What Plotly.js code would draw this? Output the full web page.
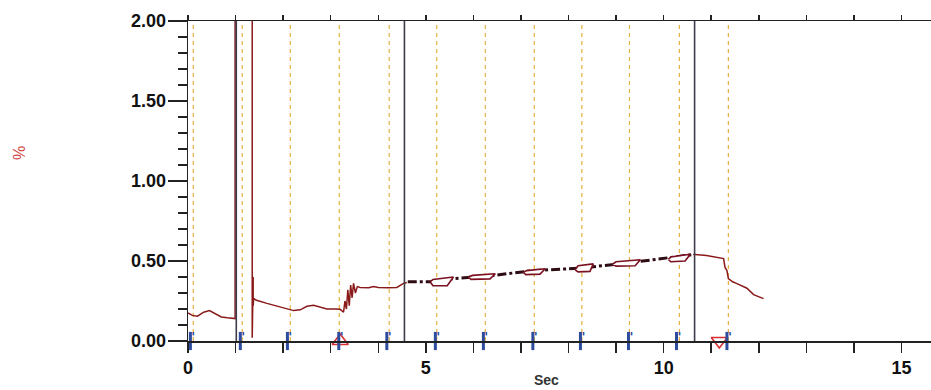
<!DOCTYPE html>
<html>
<head>
<meta charset="utf-8">
<script src="https://cdn.plot.ly/plotly-3.0.1.min.js"></script>
<style>html,body{margin:0;padding:0;background:#fff;}#chart{width:931px;height:390px;}</style>
</head>
<body>
<div id="chart"></div>
<script>
// ---- data ----
const traceT = [0, 0.09, 0.2, 0.33, 0.45, 0.57, 0.7, 0.83, 0.97, 0.99, 0.99, 1.35, 1.35, 1.36, 1.37, 1.37, 1.38, 1.44, 1.66, 1.87, 2.08, 2.22, 2.36, 2.5, 2.64, 2.78, 2.92, 3.1, 3.2, 3.27, 3.3, 3.33, 3.36, 3.39, 3.42, 3.45, 3.48, 3.52, 3.56, 3.62, 3.8, 3.9, 4.0, 4.2, 4.39, 4.53, 4.6];
const traceV = [0.175, 0.16, 0.155, 0.18, 0.19, 0.17, 0.15, 0.145, 0.14, 0.14, 2.5, 2.5, 0.02, 0.26, 0.4, 0.22, 0.265, 0.255, 0.235, 0.217, 0.2, 0.19, 0.195, 0.217, 0.223, 0.21, 0.2, 0.2, 0.198, 0.18, 0.25, 0.2, 0.32, 0.22, 0.35, 0.27, 0.36, 0.3, 0.34, 0.335, 0.333, 0.34, 0.335, 0.333, 0.335, 0.36, 0.365];
const midT = [4.62, 5.09, 5.6, 6.42, 7.26, 8.24, 9.3, 10.1, 10.62];
const midV = [0.37, 0.37, 0.39, 0.41, 0.44, 0.455, 0.49, 0.52, 0.54];
const tailT = [10.62, 10.66, 10.9, 11.1, 11.26, 11.29, 11.33, 11.36, 11.45, 11.53, 11.65, 11.75, 11.89, 12.0, 12.1];
const tailV = [0.54, 0.54, 0.535, 0.525, 0.515, 0.46, 0.44, 0.39, 0.37, 0.36, 0.345, 0.33, 0.29, 0.275, 0.265];
const boxT = [
  [5.09, 5.15, 5.45, 5.58, 5.15, 5.09],
  [5.89, 5.95, 6.35, 6.46, 5.98, 5.89],
  [7.05, 7.10, 7.40, 7.51, 7.12, 7.05],
  [8.14, 8.20, 8.45, 8.52, 8.20, 8.14],
  [8.92, 9.00, 9.40, 9.51, 9.00, 8.92],
  [10.10, 10.15, 10.45, 10.56, 10.15, 10.10]
];
const boxV = [
  [0.37, 0.345, 0.345, 0.40, 0.385, 0.37],
  [0.40, 0.385, 0.388, 0.42, 0.41, 0.40],
  [0.43, 0.415, 0.418, 0.452, 0.44, 0.43],
  [0.445, 0.432, 0.435, 0.482, 0.47, 0.445],
  [0.48, 0.468, 0.47, 0.508, 0.495, 0.48],
  [0.51, 0.495, 0.50, 0.542, 0.525, 0.51]
];
const orangeT = [0.11, 1.14, 2.15, 3.18, 4.23, 5.23, 6.25, 7.28, 8.28, 9.28, 10.33, 11.36];
const eventT = [1.015, 4.55, 10.65];
const flagT = [0.05, 1.10, 2.09, 3.17, 4.18, 5.20, 6.21, 7.25, 8.25, 9.26, 10.27, 11.33];
const startT = [3.2];
const startV = [0.0];
const endT = [11.17];
const endV = [0.0];
const xTickVals = [0,1,2,3,4,5,6,7,8,9,10,11,12,13,14,15];
const xTickText = ['0','','','','','5','','','','','10','','','','','15'];
const yTickVals = [0, 0.5, 1, 1.5, 2];
const yTickText = ['0.00', '0.50', '1.00', '1.50', '2.00'];

// ---- build ----
const bx = [], by = [];
boxT.forEach((b, i) => { bx.push(...b, null); by.push(...boxV[i], null); });

const traces = [
  {x: traceT, y: traceV, mode: 'lines', line: {color: '#8a1a1a', width: 1.5}, hoverinfo: 'skip'},
  {x: midT, y: midV, mode: 'lines', line: {color: '#2e0c14', width: 3, dash: 'dashdot'}, hoverinfo: 'skip'},
  {x: bx, y: by, mode: 'lines', fill: 'toself', fillcolor: '#ffffff', line: {color: '#7a1020', width: 1.6}, hoverinfo: 'skip'},
  {x: tailT, y: tailV, mode: 'lines', line: {color: '#8a1a1a', width: 1.5}, hoverinfo: 'skip'},
  {x: startT, y: startV, mode: 'markers', marker: {symbol: 'triangle-up-open', size: 14, color: '#d83030', line: {width: 1.6, color: '#d83030'}}, cliponaxis: false, hoverinfo: 'skip'},
  {x: endT, y: endV, mode: 'markers', marker: {symbol: 'triangle-down-open', size: 14, color: '#d83030', line: {width: 1.6, color: '#d83030'}}, cliponaxis: false, hoverinfo: 'skip'},
  {x: flagT, y: flagT.map(() => 0), mode: 'markers',
   marker: {symbol: 'line-ns-open', size: 13, color: '#2d4c9e', line: {width: 3, color: '#2d4c9e'}},
   cliponaxis: false, hoverinfo: 'skip'},
  {x: flagT.map(t => t + 0.02), y: flagT.map(() => 0.02), mode: 'text', text: flagT.map(() => "'"),
   textposition: 'middle right', textfont: {family: 'DejaVu Sans', size: 13, weight: 'bold', color: '#2d4c9e'},
   cliponaxis: false, hoverinfo: 'skip'},
  {x: [0], y: [0], xaxis: 'x2', mode: 'markers', marker: {opacity: 0}, hoverinfo: 'skip'},
  {x: [0], y: [0], yaxis: 'y2', mode: 'markers', marker: {opacity: 0}, hoverinfo: 'skip'}
];

const shapes = [];
orangeT.forEach(t => shapes.push({type: 'line', xref: 'x', yref: 'paper', x0: t, x1: t, y0: 0, y1: 1,
  line: {color: '#e8ae40', width: 1.2, dash: '4px,4px'}, layer: 'below'}));
eventT.forEach(t => shapes.push({type: 'line', xref: 'x', yref: 'paper', x0: t, x1: t, y0: 0, y1: 1,
  line: {color: '#3c3c4a', width: 1.6}, layer: 'above'}));

const tickFont = {family: 'Liberation Sans', size: 18, weight: 'bold', color: '#111'};
const layout = {
  width: 931, height: 390,
  margin: {l: 166, r: 0, t: 21, b: 49},
  paper_bgcolor: '#ffffff', plot_bgcolor: '#ffffff',
  showlegend: false,
  xaxis: {domain: [0.02876, 1], range: [0, 15.62], tickvals: xTickVals, ticktext: xTickText, ticks: 'outside', ticklen: 10, tickwidth: 1.5,
    tickcolor: '#222', showline: true, linecolor: '#222', linewidth: 1.5, showgrid: false, zeroline: false,
    tickfont: tickFont},
  xaxis2: {domain: [0.02876, 1], overlaying: 'x', side: 'top', range: [0, 15.62], tickvals: xTickVals, ticks: 'outside', ticklen: 5,
    tickwidth: 1.5, tickcolor: '#222', showline: true, linecolor: '#222', linewidth: 1.5, showgrid: false,
    zeroline: false, showticklabels: false},
  yaxis: {range: [0, 2], dtick: 0.5, ticks: 'outside', ticklen: 19, tickwidth: 1.5, tickcolor: '#222',
    showline: true, linecolor: '#222', linewidth: 1.5, showgrid: false, zeroline: false, showticklabels: false,
    minor: {dtick: 0.1, ticks: 'outside', ticklen: 9, tickwidth: 1.5, tickcolor: '#222', showgrid: false}},
  yaxis2: {overlaying: 'y', anchor: 'free', position: 0, side: 'left', range: [0, 2], tickvals: yTickVals, ticktext: yTickText,
    ticks: '', showline: false, showgrid: false, zeroline: false, tickfont: tickFont},
  shapes: shapes,
  annotations: [
    {text: '%', xref: 'paper', yref: 'paper', x: 0, y: 0.5875, xshift: -147, xanchor: 'center', yanchor: 'middle',
     textangle: -90, showarrow: false, font: {family: 'Liberation Sans', size: 16, color: '#d04848'}},
    {text: 'Sec', xref: 'x', yref: 'paper', x: 7.54, y: 0, yshift: -39, xanchor: 'center', yanchor: 'middle',
     showarrow: false, font: {family: 'Liberation Sans', size: 14, weight: 'bold', color: '#333'}}
  ]
};

Plotly.newPlot('chart', traces, layout, {displayModeBar: false, staticPlot: true});
</script>
</body>
</html>
